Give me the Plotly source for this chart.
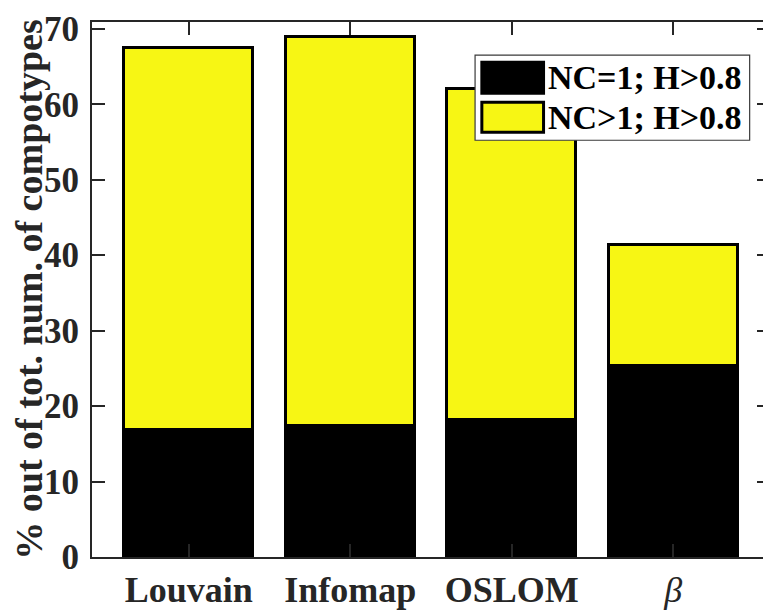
import plotly.graph_objects as go

# data
methods = ["Louvain", "Infomap", "OSLOM", "β"]
tick_text = ["<b>Louvain</b>", "<b>Infomap</b>", "<b>OSLOM</b>", "<i>β</i>"]
nc_single = [16.8, 17.3, 18.2, 25.3]      # NC=1; H>0.8
nc_multi = [50.7, 51.6, 43.8, 16.1]       # NC>1; H>0.8 (stacked on top)
series_names = ["NC=1; H>0.8", "NC>1; H>0.8"]
series_colors = ["#000000", "#f7f614"]
y_ticks = [0, 10, 20, 30, 40, 50, 60, 70]

x_pos = list(range(1, len(methods) + 1))
FONT = "Liberation Serif, Times New Roman, serif"
AXCOL = "#262626"

fig = go.Figure()
for name, vals, col in zip(series_names, [nc_single, nc_multi], series_colors):
    fig.add_trace(go.Bar(x=x_pos, y=vals, name=name, width=0.8,
                         marker=dict(color=col, line=dict(color="black", width=3.5)),
                         showlegend=False))

# legend drawn by hand so the swatches have the large matlab look
legend_rows = [(0.925, 0.867), (0.850, 0.794)]
shapes = [dict(type="rect", xref="paper", yref="paper", x0=0.565, x1=0.970, y0=0.779, y1=0.938,
               line=dict(color="#3a3a3a", width=1.2), fillcolor="white", layer="above")]
annotations = []
for (top, bot), name, col in zip(legend_rows, series_names, series_colors):
    shapes.append(dict(type="rect", xref="paper", yref="paper", x0=0.575, x1=0.666, y0=bot, y1=top,
                       line=dict(color="black", width=3), fillcolor=col, layer="above"))
    annotations.append(dict(xref="paper", yref="paper", x=0.669, y=(top + bot) / 2, text="<b>" + name + "</b>",
                            showarrow=False, xanchor="left", yanchor="middle",
                            font=dict(family=FONT, size=34, color="black")))

# the page body adds 8px, so margins are shifted by that
fig.update_layout(
    width=771, height=612,
    margin=dict(l=84, r=9, t=14, b=63),
    barmode="stack",
    bargap=0,
    plot_bgcolor="white", paper_bgcolor="white",
    font=dict(family=FONT, color=AXCOL),
    shapes=shapes, annotations=annotations,
)
fig.update_xaxes(range=[0.4, 4.6], tickvals=x_pos, ticktext=tick_text,
                 ticks="inside", ticklen=13, tickwidth=1.5, tickcolor=AXCOL,
                 showline=True, linecolor=AXCOL, linewidth=2, mirror="ticks",
                 showgrid=False, zeroline=False, layer="above traces", automargin=False,
                 tickfont=dict(family=FONT, size=36, color=AXCOL))
fig.update_yaxes(range=[0, 70.9], tickvals=y_ticks,
                 ticks="inside", ticklen=13, tickwidth=1.5, tickcolor=AXCOL,
                 showline=True, linecolor=AXCOL, linewidth=2, mirror="ticks",
                 showgrid=False, zeroline=False, layer="above traces", automargin=False,
                 ticklabelstandoff=4,
                 tickfont=dict(family=FONT, size=35, color=AXCOL, weight="bold"),
                 title=dict(text="<b>% out of tot. num. of compotypes</b>", standoff=21,
                            font=dict(family=FONT, size=38, color=AXCOL)))

fig.write_html("out.html")
